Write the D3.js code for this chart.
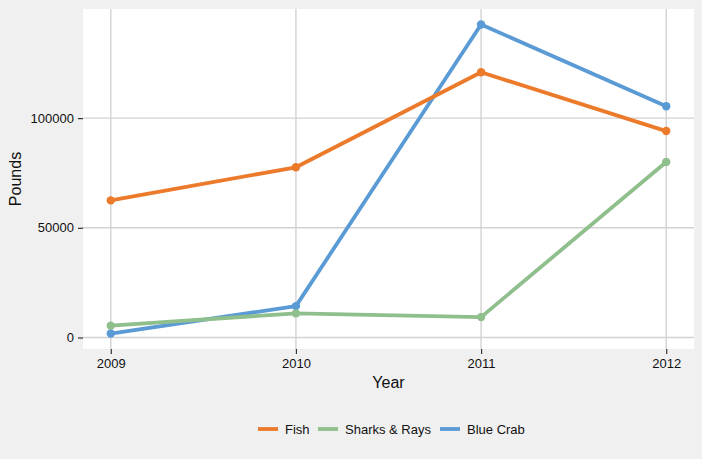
<!DOCTYPE html>
<html>
<head>
<meta charset="utf-8">
<script src="https://cdn.jsdelivr.net/npm/d3@7"></script>
<style>
  body { margin: 0; background: #f0f0f0; }
  svg { display: block; font-family: "Liberation Sans", Arial, sans-serif; }
</style>
</head>
<body>
<div id="chart"></div>
<script>
// data
const years = [2009, 2010, 2011, 2012];
const fish = [62500, 77600, 120900, 94100];
const sharksRays = [5400, 11000, 9300, 80000];
const blueCrab = [1800, 14300, 142700, 105400];
const seriesNames = ["Fish", "Sharks & Rays", "Blue Crab"];
const seriesColors = ["#ec7a2b", "#8fbf8c", "#5a9bd5"];
const yTicks = [0, 50000, 100000];

const width = 702, height = 459;
const panel = { left: 83, right: 694, top: 9, bottom: 349 };

const series = [
  { name: seriesNames[0], values: fish, color: seriesColors[0] },
  { name: seriesNames[1], values: sharksRays, color: seriesColors[1] },
  { name: seriesNames[2], values: blueCrab, color: seriesColors[2] }
];
// draw order: blue crab under green like the reference? green drawn over blue at 2009
const drawOrder = [series[2], series[0], series[1]];

const svg = d3.select("#chart").append("svg")
  .attr("width", width)
  .attr("height", height);

svg.append("rect").attr("width", width).attr("height", height).attr("fill", "#f0f0f0");

// ggplot-like 5% expansion
const allVals = series.flatMap(s => s.values);
const [yMin, yMax] = d3.extent(allVals);
const yPad = (yMax - yMin) * 0.05;
const xPad = (years[years.length - 1] - years[0]) * 0.05;

const x = d3.scaleLinear()
  .domain([years[0] - xPad, years[years.length - 1] + xPad])
  .range([panel.left, panel.right]);
const y = d3.scaleLinear()
  .domain([yMin - yPad, yMax + yPad])
  .range([panel.bottom, panel.top]);

// panel
svg.append("rect")
  .attr("x", panel.left).attr("y", panel.top)
  .attr("width", panel.right - panel.left)
  .attr("height", panel.bottom - panel.top)
  .attr("fill", "#fff");

// grid
const grid = svg.append("g").attr("stroke", "#d2d2d2").attr("stroke-width", 1.4);
grid.selectAll(".gy").data(yTicks).join("line")
  .attr("x1", panel.left).attr("x2", panel.right)
  .attr("y1", d => y(d)).attr("y2", d => y(d));
grid.selectAll(".gx").data(years).join("line")
  .attr("y1", panel.top).attr("y2", panel.bottom)
  .attr("x1", d => x(d)).attr("x2", d => x(d));

// axes
const yAxis = svg.append("g")
  .attr("transform", `translate(${panel.left},0)`)
  .call(d3.axisLeft(y).tickValues(yTicks).tickFormat(d3.format("d")).tickSize(5).tickPadding(4));
const xAxis = svg.append("g")
  .attr("transform", `translate(0,${panel.bottom})`)
  .call(d3.axisBottom(x).tickValues(years).tickFormat(d3.format("d")).tickSize(5).tickPadding(5));
[yAxis, xAxis].forEach(a => {
  a.select(".domain").remove();
  a.selectAll(".tick line").attr("stroke", "#333").attr("stroke-width", 1.2);
  a.selectAll(".tick text").attr("fill", "#111").attr("font-size", 13)
    .attr("font-family", "Liberation Sans, Arial, sans-serif");
});

// axis titles
svg.append("text")
  .attr("x", (panel.left + panel.right) / 2).attr("y", 388)
  .attr("text-anchor", "middle").attr("font-size", 16).attr("fill", "#111")
  .text("Year");
svg.append("text")
  .attr("transform", `translate(21,${(panel.top + panel.bottom) / 2}) rotate(-90)`)
  .attr("text-anchor", "middle").attr("font-size", 16).attr("fill", "#111")
  .text("Pounds");

// lines + points
const line = d3.line().x((d, i) => x(years[i])).y(d => y(d));
drawOrder.forEach(s => {
  svg.append("path")
    .attr("d", line(s.values))
    .attr("fill", "none")
    .attr("stroke", s.color)
    .attr("stroke-width", 3.8)
    .attr("stroke-linejoin", "round");
  svg.append("g").selectAll("circle").data(s.values).join("circle")
    .attr("cx", (d, i) => x(years[i]))
    .attr("cy", d => y(d))
    .attr("r", 4.2)
    .attr("fill", s.color);
});

// legend
const legendX = [258, 318, 440];
const legend = svg.append("g");
series.forEach((s, i) => {
  const g = legend.append("g").attr("transform", `translate(${legendX[i]},429)`);
  g.append("line").attr("x1", 0).attr("x2", 20).attr("y1", 0).attr("y2", 0)
    .attr("stroke", s.color).attr("stroke-width", 3.8);
  g.append("text").attr("x", 27).attr("y", 5)
    .attr("font-size", 13).attr("fill", "#111").text(s.name);
});
</script>
</body>
</html>
